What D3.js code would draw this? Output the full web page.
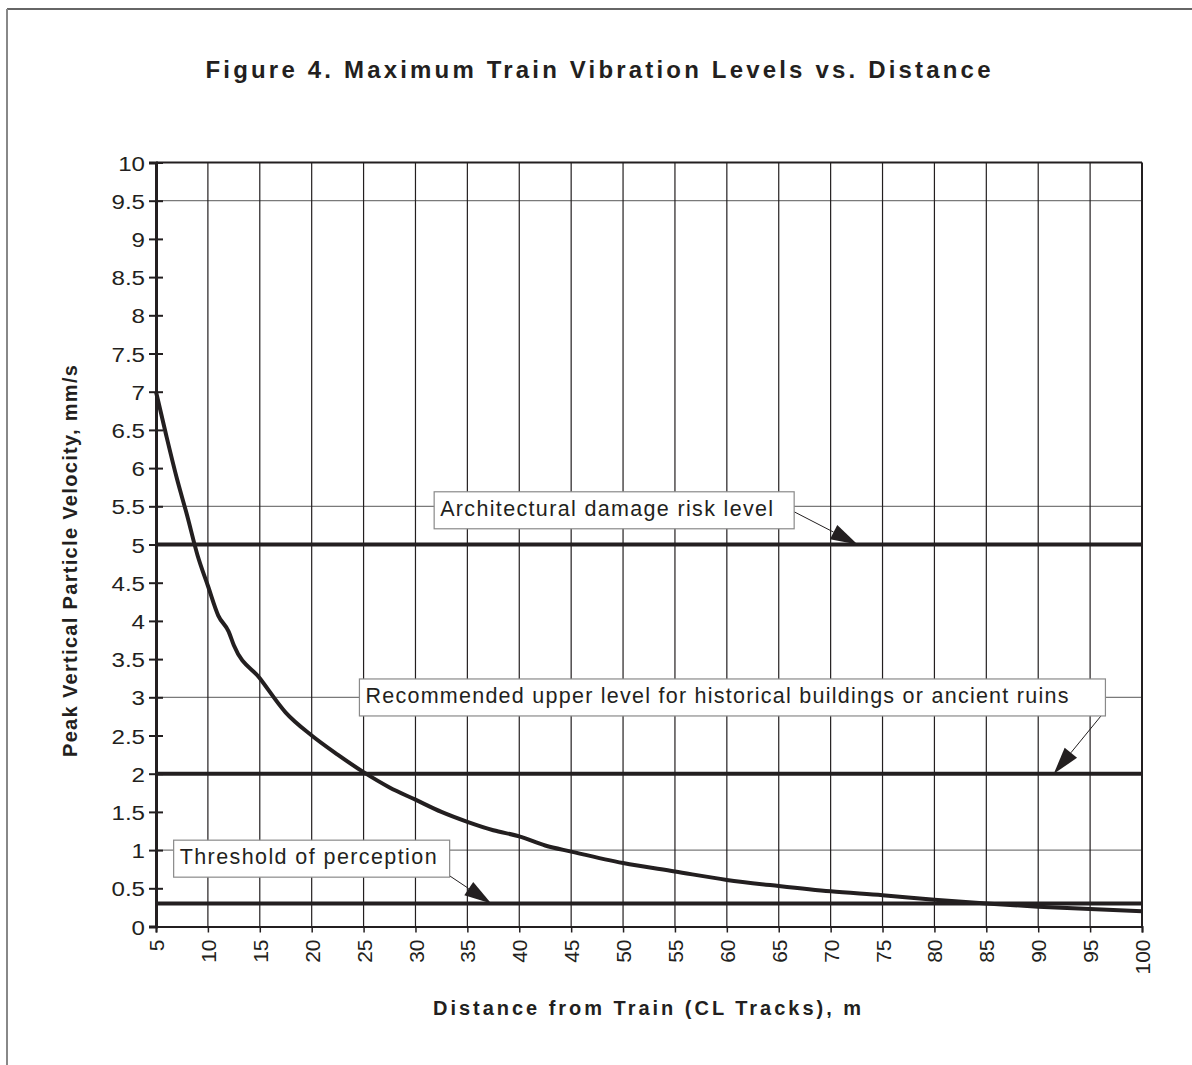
<!DOCTYPE html>
<html>
<head>
<meta charset="utf-8">
<script src="https://cdn.jsdelivr.net/npm/d3@7"></script>
<style>
  html, body { margin: 0; padding: 0; background: #fff; }
  svg { display: block; font-family: "Liberation Sans", Arial, sans-serif; }
</style>
</head>
<body>
<svg id="chart" width="1192" height="1065"></svg>
<script>
// ---- data ----
const distance = [5, 6, 7, 8, 9, 10, 11, 12, 12.5, 15, 17.5, 20, 22.5, 25, 27.5, 30, 32.5, 35, 37.5, 40, 42.5, 45, 50, 55, 60, 65, 70, 75, 80, 85, 90, 95, 100];
const velocity = [7.0, 6.42, 5.87, 5.38, 4.86, 4.46, 4.07, 3.86, 3.68, 3.25, 2.8, 2.5, 2.25, 2.02, 1.82, 1.66, 1.5, 1.37, 1.26, 1.18, 1.06, 0.98, 0.83, 0.72, 0.61, 0.53, 0.46, 0.41, 0.35, 0.30, 0.26, 0.23, 0.20];
const levelNames = ["Architectural damage risk level", "Recommended upper level for historical buildings or ancient ruins", "Threshold of perception"];
const levelValues = [5, 2, 0.3];
// callout anchors in data units: box left x, box top y, arrow tip x
const calloutBoxX = [31.8, 24.6, 6.7];
const calloutBoxY = [5.69, 3.24, 1.13];
const calloutTipX = [72.6, 91.5, 37.3];
const xTicks = d3.range(5, 101, 5);
const yTicks = d3.range(0, 10.01, 0.5);
const yGridValues = [9.5, 5.5, 3, 1];
const titleText = "Figure 4.  Maximum Train Vibration Levels vs. Distance";
const xTitle = "Distance from Train (CL Tracks), m";
const yTitle = "Peak Vertical Particle Velocity, mm/s";

// ---- layout ----
const svg = d3.select("#chart");
const x = d3.scaleLinear().domain([5, 100]).range([156, 1142]);
const y = d3.scaleLinear().domain([0, 10]).range([926.5, 162.5]);
const ink = "#231f20";
const calloutTextLen = [333, 703, 257];
const calloutBoxW = [360, 746, 276];

// outer frame
svg.append("line").attr("x1", 7).attr("x2", 1192).attr("y1", 9).attr("y2", 9)
  .attr("stroke", "#333").attr("stroke-width", 1.5);
svg.append("line").attr("x1", 7).attr("x2", 7).attr("y1", 9).attr("y2", 1065)
  .attr("stroke", "#888").attr("stroke-width", 2);

// title
svg.append("text").attr("x", 598).attr("y", 78).attr("text-anchor", "middle")
  .attr("font-size", 24).attr("font-weight", "bold").attr("fill", ink)
  .attr("textLength", 785).attr("lengthAdjust", "spacing")
  .text(titleText);

// horizontal gridlines
svg.append("g").selectAll("line").data(yGridValues).join("line")
  .attr("x1", x(5)).attr("x2", x(100))
  .attr("y1", d => y(d)).attr("y2", d => y(d))
  .attr("stroke", "#7a7a7a").attr("stroke-width", 1.2);

// vertical gridlines
svg.append("g").selectAll("line").data(xTicks.filter(d => d > 5 && d < 100)).join("line")
  .attr("x1", d => x(d)).attr("x2", d => x(d))
  .attr("y1", y(10)).attr("y2", y(0))
  .attr("stroke", ink).attr("stroke-width", 1.2);

// plot frame: top and right
svg.append("line").attr("x1", x(5)).attr("x2", x(100)).attr("y1", y(10)).attr("y2", y(10))
  .attr("stroke", ink).attr("stroke-width", 2);
svg.append("line").attr("x1", x(100)).attr("x2", x(100)).attr("y1", y(10)).attr("y2", y(0))
  .attr("stroke", ink).attr("stroke-width", 2);

// y axis
const yAxis = d3.axisLeft(y).tickValues(yTicks).tickSize(7).tickPadding(9)
  .tickFormat(d => d3.format("~g")(d));
const gy = svg.append("g").attr("transform", `translate(${x(5)},0)`).call(yAxis);
gy.select(".domain").attr("stroke", ink).attr("stroke-width", 3);
gy.selectAll(".tick line").attr("stroke", ink).attr("stroke-width", 2).attr("x2", -7).attr("x1", 7);
gy.selectAll(".tick text").attr("font-size", 21).attr("fill", ink)
  .attr("font-family", "Liberation Sans, Arial, sans-serif")
  .attr("transform", "scale(1.15,1)").attr("x", -11 / 1.15).attr("dy", "0.36em");

// x axis
const xAxis = d3.axisBottom(x).tickValues(xTicks).tickSize(6).tickPadding(12);
const gx = svg.append("g").attr("transform", `translate(0,${y(0)})`).call(xAxis);
gx.select(".domain").attr("stroke", ink).attr("stroke-width", 2);
gx.selectAll(".tick line").attr("stroke", ink).attr("stroke-width", 1.5);
gx.selectAll(".tick text").attr("font-size", 21).attr("fill", ink)
  .attr("font-family", "Liberation Sans, Arial, sans-serif")
  .attr("text-anchor", "end").attr("transform", "rotate(-90)")
  .attr("x", -13).attr("y", 0).attr("dy", "0.36em");

// axis titles
svg.append("text").attr("x", 647).attr("y", 1015).attr("text-anchor", "middle")
  .attr("font-size", 20).attr("font-weight", "bold").attr("fill", ink)
  .attr("textLength", 428).attr("lengthAdjust", "spacing").text(xTitle);
svg.append("text").attr("transform", "translate(77,561) rotate(-90)").attr("text-anchor", "middle")
  .attr("font-size", 20).attr("font-weight", "bold").attr("fill", ink)
  .attr("textLength", 392).attr("lengthAdjust", "spacing").text(yTitle);

// level lines
svg.append("g").selectAll("line").data(levelValues).join("line")
  .attr("x1", x(5)).attr("x2", x(100))
  .attr("y1", d => y(d)).attr("y2", d => y(d))
  .attr("stroke", ink).attr("stroke-width", 4);

// curve
const pts = distance.map((d, i) => [d, velocity[i]]);
svg.append("path").datum(pts)
  .attr("d", d3.line().x(d => x(d[0])).y(d => y(d[1])).curve(d3.curveMonotoneX))
  .attr("fill", "none").attr("stroke", ink).attr("stroke-width", 4).attr("stroke-linejoin", "round");

// callouts
const cg = svg.append("g");
levelNames.forEach((name, i) => {
  const bx = x(calloutBoxX[i]), by = y(calloutBoxY[i]);
  const w = calloutBoxW[i], h = 37;
  const tipX = x(calloutTipX[i]), tipY = y(levelValues[i]);
  let sx, sy;
  if (i === 0) { sx = bx + w; sy = by + 20; }
  else if (i === 1) { sx = bx + w - 2; sy = by + h - 3; }
  else { sx = bx + w - 4; sy = by + h - 4; }
  const ang = Math.atan2(tipY - sy, tipX - sx);
  const L = 27, W = 8;
  const baseX = tipX - L * Math.cos(ang), baseY = tipY - L * Math.sin(ang);
  cg.append("line").attr("x1", sx).attr("y1", sy).attr("x2", baseX).attr("y2", baseY)
    .attr("stroke", ink).attr("stroke-width", 1);
  const px = -Math.sin(ang), py = Math.cos(ang);
  cg.append("path")
    .attr("d", `M${tipX},${tipY}L${baseX + W * px},${baseY + W * py}L${baseX - W * px},${baseY - W * py}Z`)
    .attr("fill", ink);
  cg.append("rect").attr("x", bx).attr("y", by).attr("width", w).attr("height", h)
    .attr("fill", "#fff").attr("stroke", "#8a8a8a").attr("stroke-width", 1.2);
  cg.append("text").attr("x", bx + 6).attr("y", by + 24)
    .attr("font-size", 21.5).attr("fill", ink)
    .attr("textLength", calloutTextLen[i]).attr("lengthAdjust", "spacing").text(name);
});
</script>
</body>
</html>
